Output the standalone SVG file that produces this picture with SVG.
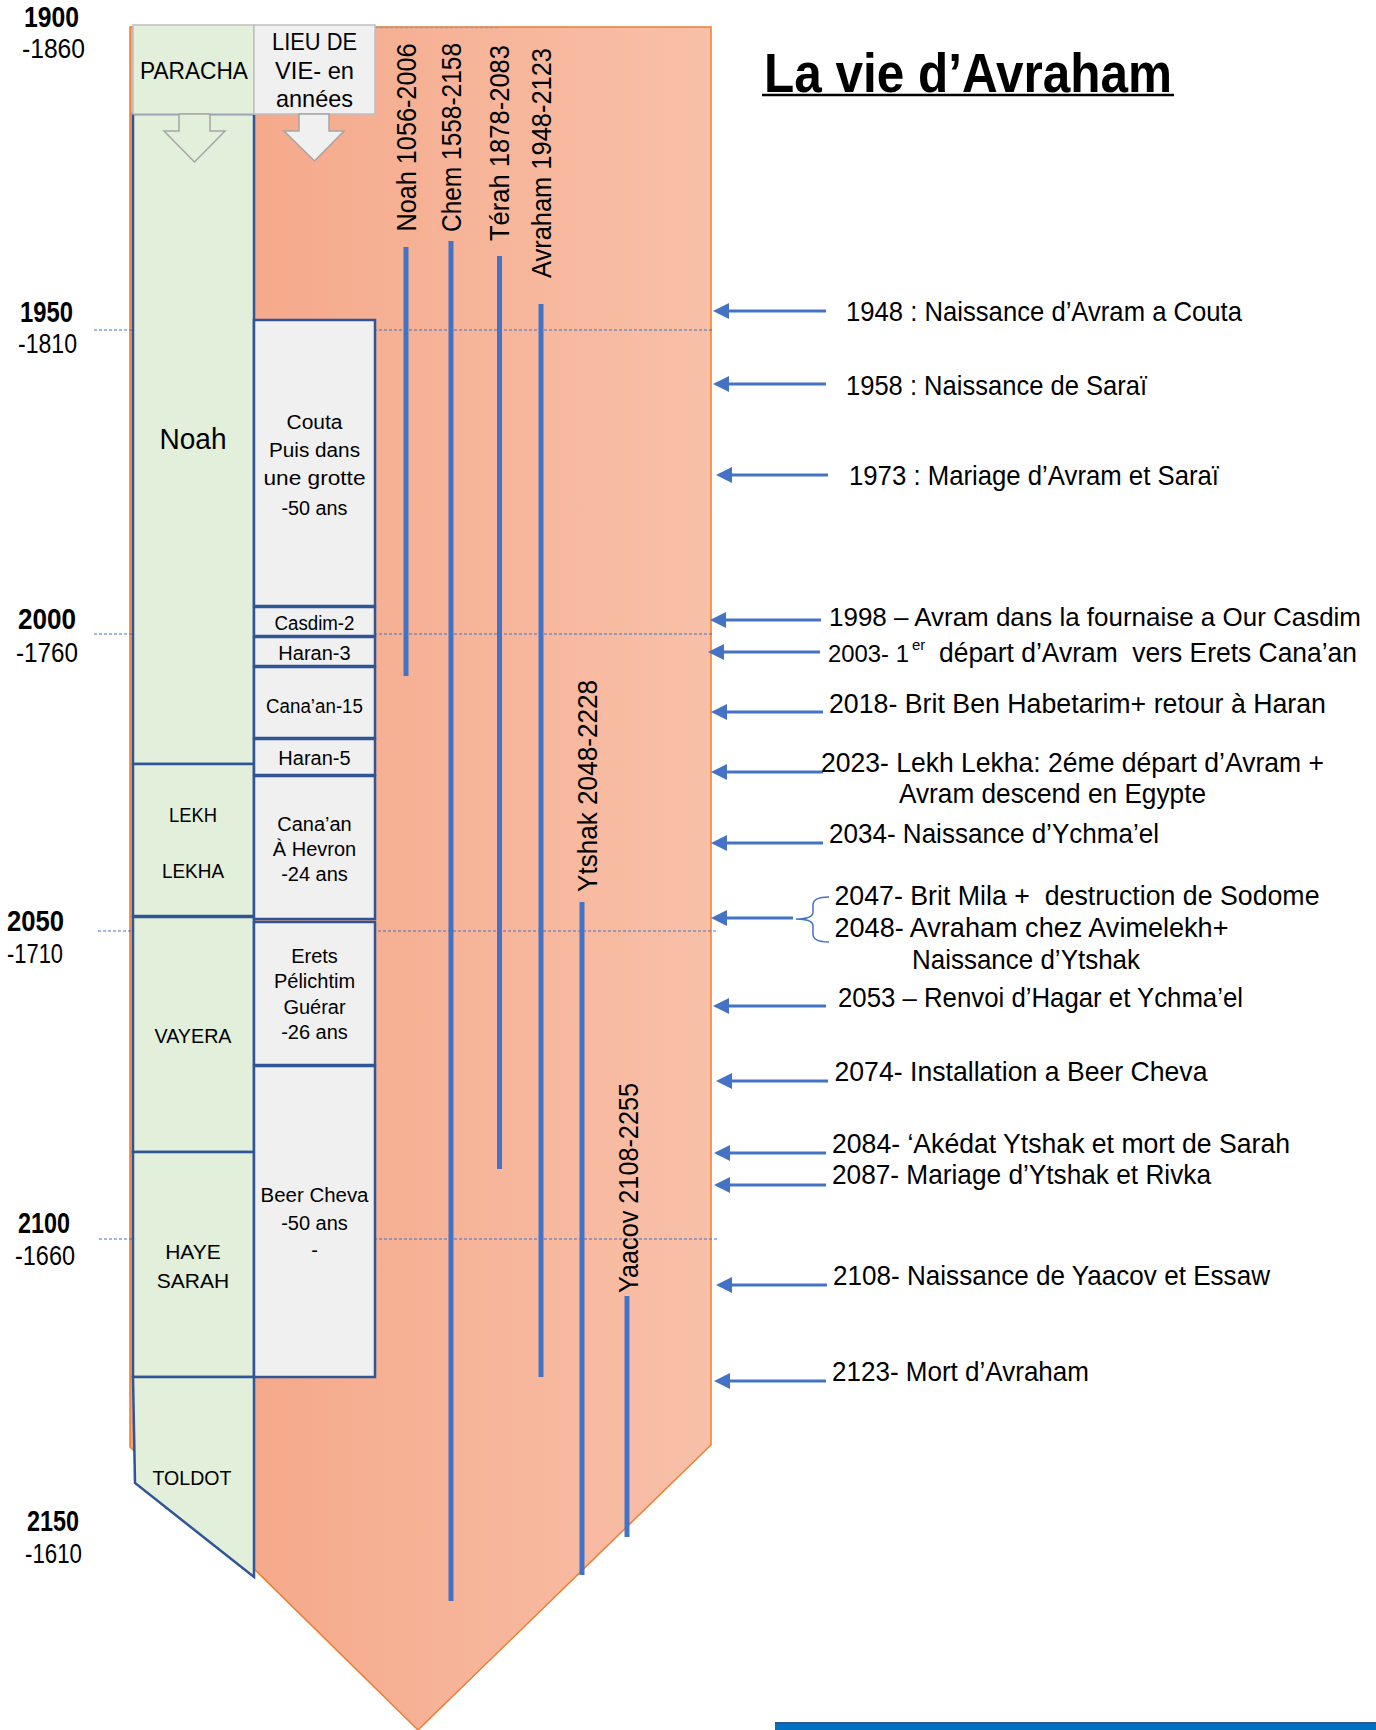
<svg xmlns="http://www.w3.org/2000/svg" width="1376" height="1730" viewBox="0 0 1376 1730">
<style>
.t{font-family:"Liberation Sans",Arial,sans-serif;fill:#000}
.ev{font-size:27.5px}
.yr{font-size:29px;font-weight:bold}
.yr2{font-size:28px}
.vt{font-size:27px}
.bx{font-size:20px;text-anchor:middle}
.pl{font-size:21px;text-anchor:middle}
.box{fill:#F0F0F0;stroke:#2F5597;stroke-width:2.5}
.par{fill:#E2EFDA;stroke:#2F5597;stroke-width:2.5}
.life{stroke:#4472C4;stroke-width:5}
.arr{stroke:#4472C4;stroke-width:3;fill:none;marker-end:url(#ah)}
.dash{stroke:#4472C4;stroke-width:1.2;stroke-dasharray:3 2;fill:none}
</style>
<defs>
<linearGradient id="og" x1="0" y1="0" x2="1" y2="0">
<stop offset="0" stop-color="#F4A383"/>
<stop offset="1" stop-color="#F8C0A8"/>
</linearGradient>
<marker id="ah" markerUnits="userSpaceOnUse" markerWidth="18" markerHeight="16" refX="6" refY="8" orient="auto">
<path d="M0,0 L16,8 L0,16 Z" fill="#4472C4"/>
</marker>
</defs>
<rect width="1376" height="1730" fill="#fff"/>

<g id="timeline-body">
<polygon points="130,27 711,27 711,1445 418,1730 130,1447" fill="url(#og)" stroke="#ED7D31" stroke-width="1.5"/>
<line x1="375" y1="27.5" x2="498" y2="27.5" stroke="#8E9BC0" stroke-width="1.5" stroke-dasharray="3 2"/>
</g>

<g id="grid">
<line class="dash" x1="94" y1="330" x2="713" y2="330"/>
<line class="dash" x1="94" y1="634" x2="713" y2="634"/>
<line class="dash" x1="98" y1="931" x2="718" y2="931"/>
<line class="dash" x1="99" y1="1239" x2="718" y2="1239"/>
</g>

<g id="years">
<text class="t yr" x="24" y="27" textLength="55" lengthAdjust="spacingAndGlyphs">1900</text>
<text class="t yr2" x="22" y="58" textLength="63" lengthAdjust="spacingAndGlyphs">-1860</text>
<text class="t yr" x="20" y="322" textLength="53" lengthAdjust="spacingAndGlyphs">1950</text>
<text class="t yr2" x="18" y="353" textLength="59" lengthAdjust="spacingAndGlyphs">-1810</text>
<text class="t yr" x="18" y="629" textLength="58" lengthAdjust="spacingAndGlyphs">2000</text>
<text class="t yr2" x="16" y="662" textLength="62" lengthAdjust="spacingAndGlyphs">-1760</text>
<text class="t yr" x="7" y="931" textLength="57" lengthAdjust="spacingAndGlyphs">2050</text>
<text class="t yr2" x="7" y="963" textLength="56" lengthAdjust="spacingAndGlyphs">-1710</text>
<text class="t yr" x="18" y="1233" textLength="52" lengthAdjust="spacingAndGlyphs">2100</text>
<text class="t yr2" x="15" y="1265" textLength="60" lengthAdjust="spacingAndGlyphs">-1660</text>
<text class="t yr" x="27" y="1531" textLength="52" lengthAdjust="spacingAndGlyphs">2150</text>
<text class="t yr2" x="25" y="1563" textLength="57" lengthAdjust="spacingAndGlyphs">-1610</text>
</g>

<g id="paracha-column">
<g id="p-noah"><rect class="par" x="133" y="114" width="121" height="650"/><text class="t" x="193" y="449" font-size="29" text-anchor="middle" textLength="67" lengthAdjust="spacingAndGlyphs">Noah</text></g>
<g id="p-lekh"><rect class="par" x="133" y="764" width="121" height="152"/><text class="t pl" x="193" y="822" textLength="48" lengthAdjust="spacingAndGlyphs">LEKH</text><text class="t pl" x="193" y="878" textLength="62" lengthAdjust="spacingAndGlyphs">LEKHA</text></g>
<g id="p-vayera"><rect class="par" x="133" y="917" width="121" height="235"/><text class="t pl" x="193" y="1043" textLength="77" lengthAdjust="spacingAndGlyphs">VAYERA</text></g>
<g id="p-haye"><rect class="par" x="133" y="1152" width="121" height="225"/><text class="t pl" x="193" y="1259">HAYE</text><text class="t pl" x="193" y="1288">SARAH</text></g>
<g id="p-toldot"><polygon class="par" points="133,1377 254,1377 254,1577 135,1483"/><text class="t pl" x="192" y="1485" textLength="79" lengthAdjust="spacingAndGlyphs">TOLDOT</text></g>
</g>

<g id="lieu-column">
<g id="l-couta"><rect class="box" x="254" y="320" width="121" height="286"/>
<text class="t bx" font-size="22" x="314.5" y="429" textLength="56" lengthAdjust="spacingAndGlyphs">Couta</text>
<text class="t bx" font-size="22" x="314.5" y="457" textLength="91" lengthAdjust="spacingAndGlyphs">Puis dans</text>
<text class="t bx" font-size="22" x="314.5" y="485" textLength="102" lengthAdjust="spacingAndGlyphs">une grotte</text>
<text class="t bx" font-size="22" x="314.5" y="515" textLength="66" lengthAdjust="spacingAndGlyphs">-50 ans</text></g>
<g id="l-casdim"><rect class="box" x="254" y="607" width="121" height="29"/><text class="t bx" font-size="19" x="314.5" y="630" textLength="80" lengthAdjust="spacingAndGlyphs">Casdim-2</text></g>
<g id="l-haran3"><rect class="box" x="254" y="637" width="121" height="29"/><text class="t bx" font-size="19" x="314.5" y="660">Haran-3</text></g>
<g id="l-canaan15"><rect class="box" x="254" y="667" width="121" height="71"/><text class="t bx" font-size="19" x="314.5" y="713" textLength="97" lengthAdjust="spacingAndGlyphs">Cana’an-15</text></g>
<g id="l-haran5"><rect class="box" x="254" y="739" width="121" height="36"/><text class="t bx" font-size="19" x="314.5" y="765">Haran-5</text></g>
<g id="l-hevron"><rect class="box" x="254" y="776" width="121" height="143"/>
<text class="t bx" font-size="20" x="314.5" y="831">Cana’an</text>
<text class="t bx" font-size="20" x="314.5" y="856">À Hevron</text>
<text class="t bx" font-size="20" x="314.5" y="881">-24 ans</text></g>
<g id="l-erets"><rect class="box" x="254" y="922" width="121" height="143"/>
<text class="t bx" font-size="20" x="314.5" y="963">Erets</text>
<text class="t bx" font-size="20" x="314.5" y="988">Pélichtim</text>
<text class="t bx" font-size="20" x="314.5" y="1014">Guérar</text>
<text class="t bx" font-size="20" x="314.5" y="1039">-26 ans</text></g>
<g id="l-beercheva"><rect class="box" x="254" y="1066" width="121" height="311"/>
<text class="t bx" font-size="21.5" x="314.5" y="1202" textLength="108" lengthAdjust="spacingAndGlyphs">Beer Cheva</text>
<text class="t bx" font-size="21.5" x="314.5" y="1230">-50 ans</text>
<text class="t bx" font-size="21.5" x="314.5" y="1257">-</text></g>
</g>

<g id="headers">
<g id="h-paracha"><rect x="133" y="25" width="121" height="89" fill="#E2EFDA" stroke="#BFBFBF" stroke-width="1.5"/>
<text class="t" x="194" y="79" font-size="24" text-anchor="middle" textLength="108" lengthAdjust="spacingAndGlyphs">PARACHA</text>
<polygon points="179,114 210,114 210,131 225,131 194.5,162 164,131 179,131" fill="#E2EFDA" stroke="#A5A5A5" stroke-width="1.5"/></g>
<g id="h-lieu"><rect x="254" y="25" width="121" height="89" fill="#F0F0F0" stroke="#BFBFBF" stroke-width="1.5"/>
<text class="t" x="314.5" y="50" font-size="24" text-anchor="middle" textLength="85" lengthAdjust="spacingAndGlyphs">LIEU DE</text>
<text class="t" x="314.5" y="79" font-size="24" text-anchor="middle" textLength="79" lengthAdjust="spacingAndGlyphs">VIE- en</text>
<text class="t" x="314.5" y="107" font-size="24" text-anchor="middle" textLength="77" lengthAdjust="spacingAndGlyphs">années</text>
<polygon points="299,114 329,114 329,131 344,131 314.5,161 284,131 299,131" fill="#F0F0F0" stroke="#A5A5A5" stroke-width="1.5"/></g>
</g>

<g id="lives">
<g id="life-noah"><line class="life" x1="406" y1="247" x2="406" y2="676"/><text class="t vt" transform="translate(415.5,231.5) rotate(-90)" textLength="188" lengthAdjust="spacingAndGlyphs">Noah 1056-2006</text></g>
<g id="life-chem"><line class="life" x1="451" y1="241" x2="451" y2="1601"/><text class="t vt" transform="translate(461,232) rotate(-90)" textLength="189" lengthAdjust="spacingAndGlyphs">Chem 1558-2158</text></g>
<g id="life-terah"><line class="life" x1="499.5" y1="256" x2="499.5" y2="1169"/><text class="t vt" transform="translate(508.6,241) rotate(-90)" textLength="196" lengthAdjust="spacingAndGlyphs">Térah 1878-2083</text></g>
<g id="life-avraham"><line class="life" x1="541" y1="304" x2="541" y2="1377"/><text class="t vt" transform="translate(551,278) rotate(-90)" textLength="230" lengthAdjust="spacingAndGlyphs">Avraham 1948-2123</text></g>
<g id="life-ytshak"><line class="life" x1="582" y1="902" x2="582" y2="1575"/><text class="t vt" transform="translate(597,892) rotate(-90)" textLength="212" lengthAdjust="spacingAndGlyphs">Ytshak 2048-2228</text></g>
<g id="life-yaacov"><line class="life" x1="627" y1="1296" x2="627" y2="1537"/><text class="t vt" transform="translate(638,1293) rotate(-90)" textLength="210" lengthAdjust="spacingAndGlyphs">Yaacov 2108-2255</text></g>
</g>

<g id="title">
<text class="t" x="764" y="92" font-size="55" font-weight="bold" textLength="408" lengthAdjust="spacingAndGlyphs">La vie d’Avraham</text>
<line x1="762" y1="95" x2="1174" y2="95" stroke="#000" stroke-width="2.5"/>
</g>

<g id="connectors">
<line class="arr" x1="826" y1="311" x2="723" y2="311"/>
<line class="arr" x1="826" y1="384" x2="723" y2="384"/>
<line class="arr" x1="828" y1="475" x2="726" y2="475"/>
<line class="arr" x1="821" y1="620" x2="720" y2="620"/>
<line class="arr" x1="820" y1="652" x2="718" y2="652"/>
<line class="arr" x1="823" y1="712" x2="721" y2="712"/>
<line class="arr" x1="823" y1="772" x2="721" y2="772"/>
<line class="arr" x1="823" y1="843" x2="721" y2="843"/>
<line class="arr" x1="793" y1="918" x2="721" y2="918"/>
<line class="arr" x1="826" y1="1006" x2="723" y2="1006"/>
<line class="arr" x1="828" y1="1081" x2="726" y2="1081"/>
<line class="arr" x1="826" y1="1153" x2="724" y2="1153"/>
<line class="arr" x1="826" y1="1185" x2="724" y2="1185"/>
<line class="arr" x1="827" y1="1285" x2="726" y2="1285"/>
<line class="arr" x1="826" y1="1381" x2="724" y2="1381"/>
<path d="M829,897 Q813,897 813,905 L813,912 Q813,919 796,919 Q813,919 813,926 L813,934 Q813,942 829,942" fill="none" stroke="#4472C4" stroke-width="1.5"/>
</g>

<g id="events">
<text class="t ev" x="846" y="321" textLength="396" lengthAdjust="spacingAndGlyphs">1948 : Naissance d’Avram a Couta</text>
<text class="t ev" x="846" y="395" textLength="301" lengthAdjust="spacingAndGlyphs">1958 : Naissance de Saraï</text>
<text class="t ev" x="849" y="485" textLength="370" lengthAdjust="spacingAndGlyphs">1973 : Mariage d’Avram et Saraï</text>
<text class="t" x="829" y="626" font-size="25.5" textLength="532" lengthAdjust="spacingAndGlyphs">1998 – Avram dans la fournaise a Our Casdim</text>
<text class="t" x="828" y="662" font-size="24" textLength="81" lengthAdjust="spacingAndGlyphs">2003- 1</text>
<text class="t" x="912" y="650" font-size="15">er</text>
<text class="t ev" x="939" y="662" textLength="418" lengthAdjust="spacingAndGlyphs" style="white-space:pre">départ d’Avram  vers Erets Cana’an</text>
<text class="t ev" x="829" y="713" textLength="497" lengthAdjust="spacingAndGlyphs">2018- Brit Ben Habetarim+ retour à Haran</text>
<text class="t ev" x="821" y="772" textLength="503" lengthAdjust="spacingAndGlyphs">2023- Lekh Lekha: 2éme départ d’Avram +</text>
<text class="t ev" x="899" y="803" textLength="307" lengthAdjust="spacingAndGlyphs">Avram descend en Egypte</text>
<text class="t ev" x="829" y="843" textLength="330" lengthAdjust="spacingAndGlyphs">2034- Naissance d’Ychma’el</text>
<text class="t ev" x="834.5" y="905" textLength="485" lengthAdjust="spacingAndGlyphs" style="white-space:pre">2047- Brit Mila +  destruction de Sodome</text>
<text class="t ev" x="834.5" y="937" textLength="394" lengthAdjust="spacingAndGlyphs">2048- Avraham chez Avimelekh+</text>
<text class="t ev" x="912" y="969" textLength="228" lengthAdjust="spacingAndGlyphs">Naissance d’Ytshak</text>
<text class="t ev" x="838" y="1007" textLength="405" lengthAdjust="spacingAndGlyphs">2053 – Renvoi d’Hagar et Ychma’el</text>
<text class="t ev" x="834.5" y="1081" textLength="373" lengthAdjust="spacingAndGlyphs">2074- Installation a Beer Cheva</text>
<text class="t ev" x="832" y="1153" textLength="458" lengthAdjust="spacingAndGlyphs">2084- ‘Akédat Ytshak et mort de Sarah</text>
<text class="t ev" x="832" y="1184" textLength="379" lengthAdjust="spacingAndGlyphs">2087- Mariage d’Ytshak et Rivka</text>
<text class="t ev" x="833" y="1285" textLength="437" lengthAdjust="spacingAndGlyphs">2108- Naissance de Yaacov et Essaw</text>
<text class="t ev" x="832" y="1381" textLength="257" lengthAdjust="spacingAndGlyphs">2123- Mort d’Avraham</text>
</g>

<g id="footer-bar">
<rect x="775" y="1722" width="601" height="8" fill="#0070C0"/>
<line x1="775" y1="1723" x2="1376" y2="1723" stroke="#2F5597" stroke-width="2"/>
</g>
</svg>
